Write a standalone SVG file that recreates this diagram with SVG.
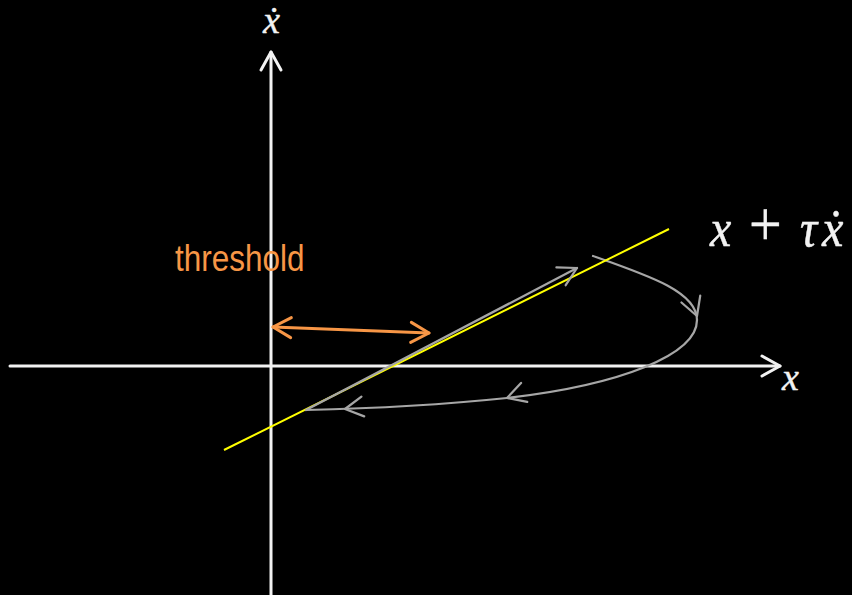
<svg xmlns="http://www.w3.org/2000/svg" width="852" height="595" viewBox="0 0 852 595">
  <style>
    .axis { stroke: #f2f2f2; stroke-width: 3; fill: none; stroke-linecap: round; stroke-linejoin: round; }
    .traj { stroke: #a6a6a6; stroke-width: 2.25; fill: none; stroke-linecap: round; stroke-linejoin: round; }
    .thr { stroke: #f79646; stroke-width: 3; fill: none; stroke-linecap: round; stroke-linejoin: round; }
    .yel { stroke: #ffff00; stroke-width: 2; fill: none; }
    .math { font-family: "Liberation Serif", "DejaVu Serif", serif; font-style: italic; fill: #f2f2f2; stroke: #f2f2f2; stroke-width: 0.4; }
    .sans { font-family: "Liberation Sans", Arial, sans-serif; fill: #f79646; }
  </style>
  <defs>
    <path id="chev" d="M-18,-10 L0,0 L-18,10"/>
  </defs>
  <rect width="852" height="595" fill="#000000"/>

  <g id="axes">
    <line class="axis" x1="10" y1="366" x2="780" y2="366"/>
    <line class="axis" x1="271" y1="595" x2="271" y2="52"/>
    <use href="#chev" class="axis" transform="translate(780,366)"/>
    <use href="#chev" class="axis" transform="translate(271,52) rotate(-90)"/>
  </g>

  <g id="connectors">
    <g id="trajectory-curve">
      <path class="traj" d="M593,256 C650,276 697,292 697,320 C697,355 620,385 507,398 C420,407 350,409 306,410"/>
      <use href="#chev" class="traj" transform="translate(697,316) rotate(70)"/>
      <use href="#chev" class="traj" transform="translate(507,398) rotate(162)"/>
      <use href="#chev" class="traj" transform="translate(345,409) rotate(172)"/>
    </g>
    <g id="switch-line">
      <line class="yel" x1="224" y1="450" x2="669" y2="229"/>
    </g>
    <g id="trajectory-slide">
      <line class="traj" x1="306" y1="410" x2="577" y2="268"/>
      <use href="#chev" class="traj" transform="translate(577,268) rotate(-27.6)"/>
    </g>
    <g id="threshold-arrow">
      <line class="thr" x1="273" y1="327" x2="429" y2="333"/>
      <use href="#chev" class="thr" transform="translate(273,327) rotate(182)"/>
      <use href="#chev" class="thr" transform="translate(429,333) rotate(2)"/>
    </g>
  </g>

  <g id="labels">
    <g id="label-xdot">
      <text class="math" x="263" y="33" font-size="38">ẋ</text>
    </g>
    <g id="label-x">
      <text class="math" x="782" y="390" font-size="38">x</text>
    </g>
    <g id="label-switch">
      <text class="math" transform="translate(0,246) scale(1,1.1)" font-size="48"><tspan x="710" y="0">x</tspan><tspan x="749" y="0" font-style="normal" font-size="58">+</tspan><tspan x="800" y="0">τ</tspan><tspan x="822" y="0">ẋ</tspan></text>
    </g>
    <g id="label-threshold">
      <text class="sans" transform="translate(175,271) scale(1,1.2)" font-size="31.5">threshold</text>
    </g>
  </g>
</svg>
